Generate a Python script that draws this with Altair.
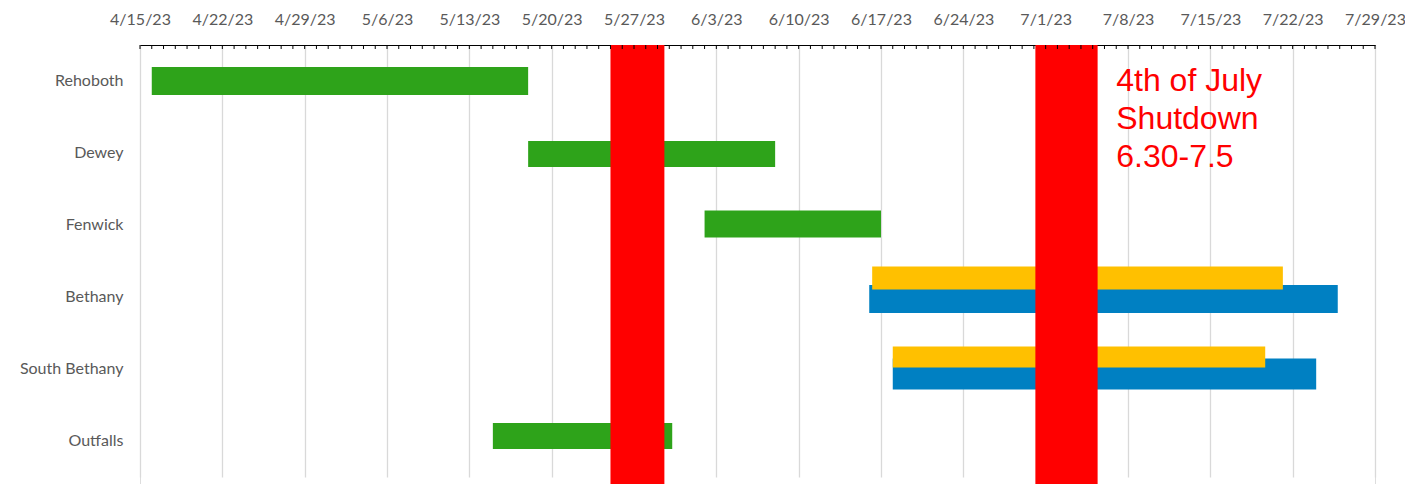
import altair as alt
import pandas as pd

# ---- data ----
tasks = ["Rehoboth", "Dewey", "Fenwick", "Bethany", "South Bethany", "Outfalls"]

bar_task = ["Rehoboth", "Dewey", "Fenwick", "Bethany", "Bethany",
            "South Bethany", "South Bethany", "Outfalls"]
bar_series = ["green", "green", "green", "blue", "yellow", "blue", "yellow", "green"]
bar_start = ["2023-04-16", "2023-05-18", "2023-06-02", "2023-06-16", "2023-06-16T06:00",
             "2023-06-18", "2023-06-18", "2023-05-15"]
bar_end = ["2023-05-18", "2023-06-08", "2023-06-17", "2023-07-25T20:00", "2023-07-21T04:00",
           "2023-07-24", "2023-07-19T16:00", "2023-05-30T06:00"]

shut_start = ["2023-05-25", "2023-06-30T03:00"]
shut_end = ["2023-05-29T14:00", "2023-07-05T10:00"]

note_text = ["4th of July\nShutdown\n6.30-7.5"]
note_date = ["2023-07-07T00:00"]
note_task = ["Rehoboth"]

axis_start = "2023-04-15"
axis_end = "2023-07-29"

series_colors = {"green": "#2ea31a", "blue": "#0080c2", "yellow": "#ffc000"}

bars = pd.DataFrame({"task": bar_task, "series": bar_series,
                     "start": bar_start, "end": bar_end})
shut = pd.DataFrame({"start": shut_start, "end": shut_end})
note = pd.DataFrame({"text": note_text, "date": note_date, "task": note_task})
days = pd.DataFrame({"day": pd.date_range(axis_start, axis_end, freq="D").strftime("%Y-%m-%d")})
weeks = list(pd.date_range(axis_start, axis_end, freq="7D").strftime("%Y-%m-%d"))

LABEL = "#595959"

xscale = alt.Scale(domain=[alt.DateTime(year=2023, month=4, date=15),
                           alt.DateTime(year=2023, month=7, date=29)], nice=False)
yscale = alt.Scale(domain=tasks, range=[0, 432], paddingInner=0, paddingOuter=0)

xaxis = alt.Axis(orient="top", values=[alt.DateTime(year=int(w[:4]), month=int(w[5:7]), date=int(w[8:]))
                                        for w in weeks],
                 format="%-m/%-d/%y", labelColor=LABEL, labelFont="Lato", labelFontSize=16,
                 labelPadding=18, labelOverlap=False, labelBound=False, labelFlush=False,
                 tickSize=0, domainColor="#000000", domainWidth=1.2,
                 grid=True, gridColor="#d9d9d9", gridWidth=1.3, title=None)
yaxis = alt.Axis(labelColor=LABEL, labelFont="Lato", labelFontSize=16, labelPadding=17,
                 domain=False, ticks=False, grid=False, title=None)

base = alt.Chart(bars)

# per-row bar thickness / offset (style)
style = {
    ("Rehoboth", "green"): (28, 0), ("Dewey", "green"): (26, 1), ("Fenwick", "green"): (27, -1),
    ("Outfalls", "green"): (26, -5),
    ("Bethany", "blue"): (28, 2), ("Bethany", "yellow"): (23, -19),
    ("South Bethany", "blue"): (31, 5), ("South Bethany", "yellow"): (21, -12),
}

layers = []
# axis carrier (grid + labels)
layers.append(
    alt.Chart(days).mark_rule(opacity=0).encode(
        x=alt.X("day:T", scale=xscale, axis=xaxis),
    )
)
order = [("Rehoboth", "green"), ("Dewey", "green"), ("Fenwick", "green"), ("Outfalls", "green"),
         ("Bethany", "blue"), ("South Bethany", "blue"),
         ("Bethany", "yellow"), ("South Bethany", "yellow")]
for (t, s) in order:
    size, off = style[(t, s)]
    layers.append(
        base.transform_filter((alt.datum.task == t) & (alt.datum.series == s))
        .mark_bar(size=size, yOffset=off, color=series_colors[s])
        .encode(
            x=alt.X("start:T", scale=xscale, axis=xaxis),
            x2="end:T",
            y=alt.Y("task:N", scale=yscale, axis=yaxis, sort=tasks),
        )
    )

layers.append(
    alt.Chart(shut).mark_rect(color="#ff0000").encode(
        x=alt.X("start:T", scale=xscale, axis=xaxis), x2="end:T"
    )
)
layers.append(
    alt.Chart(days).mark_rule(color="#000000", strokeWidth=1).encode(
        x=alt.X("day:T", scale=xscale, axis=xaxis),
        y=alt.value(0), y2=alt.value(4),
    )
)
layers.append(
    alt.Chart(note).mark_text(color="#ff0000", font="Liberation Sans", fontSize=32,
                              lineBreak="\n", lineHeight=38, align="left",
                              baseline="alphabetic", dy=10).encode(
        x=alt.X("date:T", scale=xscale, axis=xaxis),
        y=alt.Y("task:N", scale=yscale, axis=yaxis, sort=tasks),
        text="text:N",
    )
)

chart = alt.layer(*layers).properties(
    width=1235, height=439,
    autosize=alt.AutoSizeParams(type="none"),
    padding={"left": 132, "top": 37, "right": 30, "bottom": 0},
).configure_view(stroke=None).configure(background="#ffffff")

chart.save("out.html", embed_options={"renderer": "svg", "actions": False})
